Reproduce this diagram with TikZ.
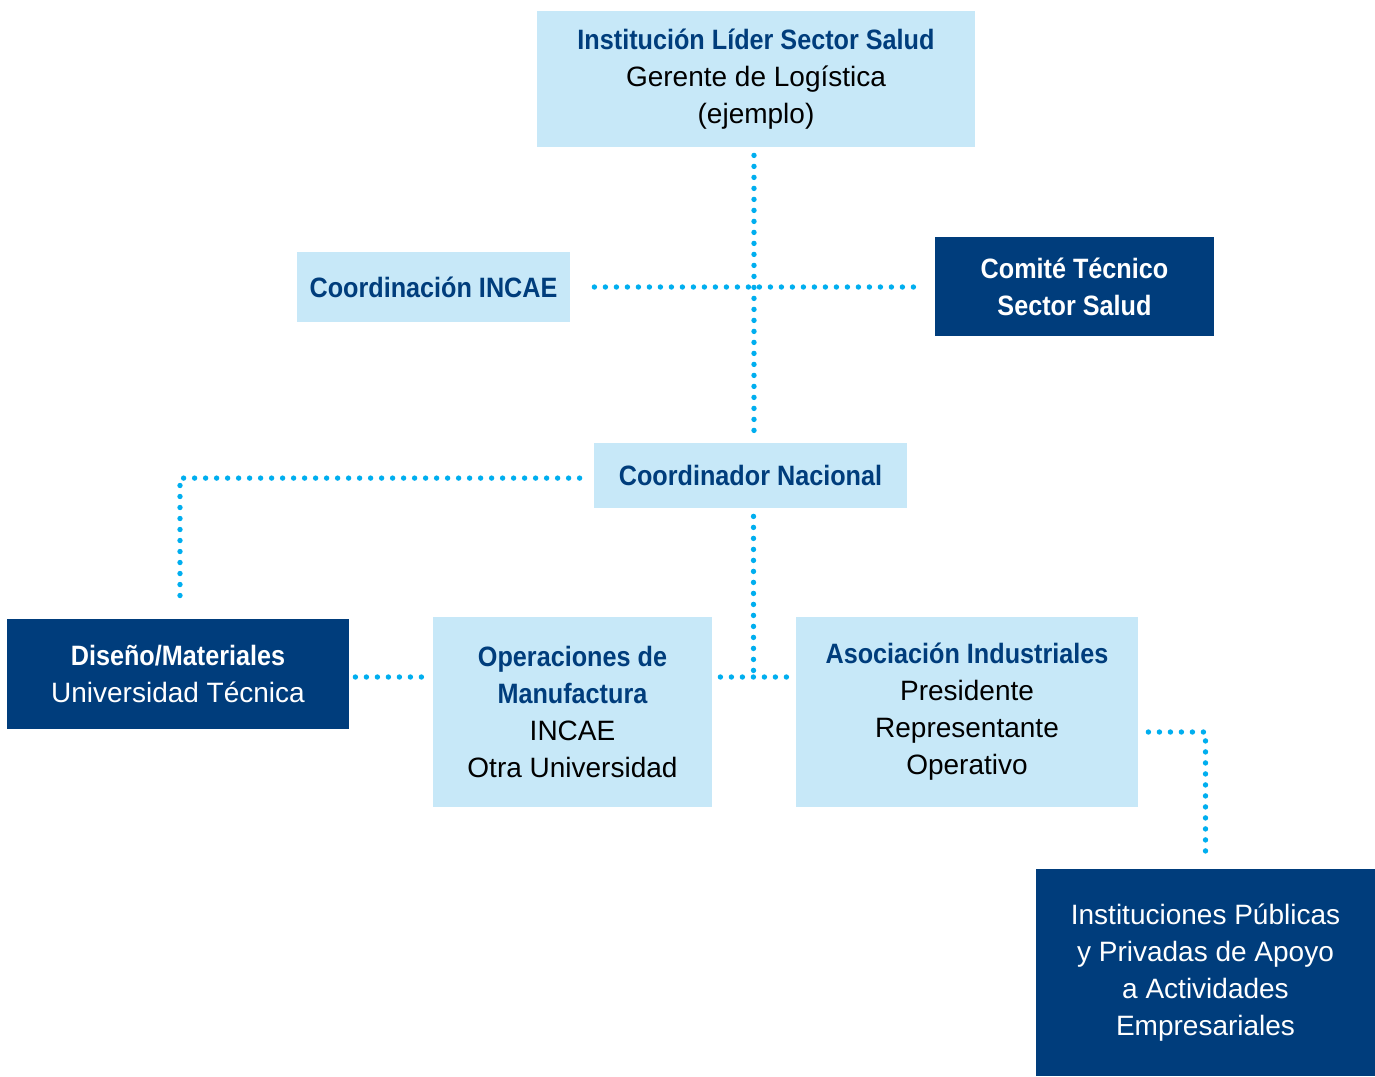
\documentclass[tikz,border=0pt]{standalone}
\usepackage{fontspec}
\setmainfont[BoldFeatures={FakeStretch=0.9}]{Liberation Sans}
\usetikzlibrary{positioning,calc}
\definecolor{navy}{HTML}{003D7C}
\definecolor{paleBlue}{HTML}{C7E8F8}
\definecolor{dotCyan}{HTML}{00AEEF}
\newcommand{\lhead}[1]{\textcolor{navy}{\textbf{#1}}}
\tikzset{
	boxBase/.style={
		inner sep=0pt,
		align=center,
		font=\fontsize{14}{18.5}\selectfont
	},
	lightBox/.style={
		boxBase,
		fill=paleBlue,
		text=black
	},
	darkBox/.style={
		boxBase,
		fill=navy,
		text=white
	},
	dotLine/.style={
		draw=dotCyan,
		line width=2.7pt,
		line cap=round,
		dash pattern=on 0pt off 5.5pt
	},
}
\begin{document}
\begin{tikzpicture}[x=0.5pt, y=-0.5pt]
\useasboundingbox (0,0) rectangle (1375,1076);
% boxes
\node[lightBox, minimum width=219pt, minimum height=68pt] (lider) at (756,79)
	{\lhead{Institución Líder Sector Salud}\\Gerente de Logística\\(ejemplo)};
\node[lightBox, minimum width=136.5pt, minimum height=35pt] (incae) at (433.5,287)
	{\lhead{Coordinación INCAE}};
\node[darkBox, minimum width=139.5pt, minimum height=49.5pt] (comite) at (1074.5,286.5)
	{\textbf{Comité Técnico}\\\textbf{Sector Salud}};
\node[lightBox, minimum width=156.5pt, minimum height=32.5pt] (coord) at (750.5,475.5)
	{\lhead{Coordinador Nacional}};
\node[darkBox, minimum width=171pt, minimum height=55pt] (diseno) at (178,674)
	{\textbf{Diseño/Materiales}\\Universidad Técnica};
\node[lightBox, minimum width=139.5pt, minimum height=95pt] (oper) at (572.5,712)
	{\lhead{Operaciones de}\\\lhead{Manufactura}\\INCAE\\Otra Universidad};
\node[lightBox, minimum width=171pt, minimum height=95pt] (asoc) at (967,712)
	{\lhead{Asociación Industriales}\\Presidente\\Representante\\Operativo};
\node[darkBox, minimum width=169.5pt, minimum height=103.5pt] (inst) at (1205.5,972.5)
	{Instituciones Públicas\\y Privadas de Apoyo\\a Actividades\\Empresariales};
% dotted links
\coordinate (lowRow) at ([yshift=-1.5pt]diseno.east);
\draw[dotLine, shorten <=4pt, shorten >=3pt] ([xshift=-1pt]lider.south) -- ([xshift=-1pt]lider.south |- coord.north);
\draw[dotLine, shorten <=12pt, shorten >=6.5pt] (incae.east) -- (incae.east -| comite.west);
\draw[dotLine, shorten <=7pt, shorten >=8pt] ([yshift=-1.3pt]coord.west) -| ([xshift=1pt]diseno.north);
\draw[dotLine, shorten <=4pt] ([xshift=1.5pt]coord.south) -- ([xshift=1.5pt]coord.south |- lowRow);
\draw[dotLine, shorten <=4pt, shorten >=1pt] (oper.east |- lowRow) -- (asoc.west |- lowRow);
\draw[dotLine, shorten <=3pt, shorten >=3pt] (lowRow) -- (oper.west |- lowRow);
\draw[dotLine, shorten <=5pt, shorten >=7pt] ([yshift=-10pt]asoc.east) -| (inst.north);
\end{tikzpicture}
\end{document}
